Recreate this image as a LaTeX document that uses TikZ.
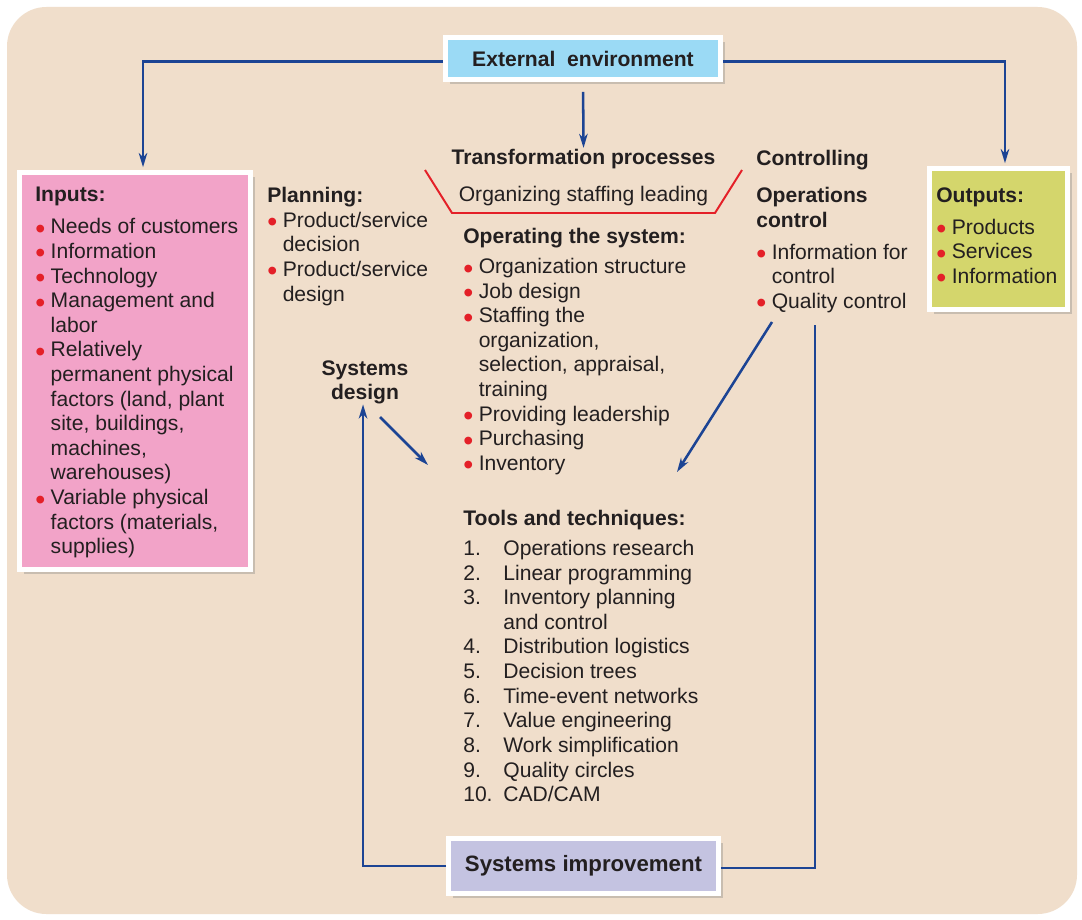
\documentclass[tikz,border=0pt]{standalone}
\usepackage{fontspec}
\setmainfont{Liberation Sans}
\usetikzlibrary{
    arrows.meta,
    shadows
}
\definecolor{bgC}  {RGB}{240,222,203}
\definecolor{envC} {RGB}{155,218,245}
\definecolor{inC}  {RGB}{242,163,200}
\definecolor{outC} {RGB}{212,214,108}
\definecolor{impC} {RGB}{196,195,225}
\definecolor{flowC}{RGB}{28,68,148}
\definecolor{redC} {RGB}{228,32,40}
\definecolor{inkC} {RGB}{35,31,32}
\tikzset{
  panel/.style = {draw=white, line width=3.5pt, inner sep=0pt, text=inkC,
                  font=\bfseries\fontsize{15}{17.5}\selectfont,
                  drop shadow={shadow xshift=3pt, shadow yshift=-3pt,
                               opacity=0.35}},
  txt/.style   = {anchor=north west, align=left, inner sep=0pt, text=inkC,
                  font=\fontsize{15}{17.5}\selectfont},
  flow/.style  = {-{Stealth[length=10pt, width=6pt, inset=3pt]},
                  line width=1.8pt, draw=flowC},
  link/.style  = {line width=1.8pt, draw=flowC}
}
\newcommand{\bul}{\makebox[11pt][l]{%
  \textcolor{redC}{\raisebox{-3.2pt}{\scalebox{1.35}{\textbullet}}}}}
\newcommand{\ind}{\hspace*{11pt}}
\newcommand{\num}[1]{\makebox[28.5pt][l]{#1}}

\begin{document}
\begin{tikzpicture}[x=0.025cm, y=-0.025cm]

  %% ── Canvas ────────────────────────────────────────────────────
  \useasboundingbox (0,0) rectangle (1082,919);
  \fill[white] (0,0) rectangle (1082,919);
  \fill[bgC, rounded corners=28pt] (7,7) rectangle (1077,914);

  %% ── Boxes ─────────────────────────────────────────────────────
  \node[panel, fill=envC, minimum width=195.6pt, minimum height=29.9pt]
    (ext) at (583,58.5) {External\ \ environment};
  \node[panel, fill=inC,  minimum width=164.3pt, minimum height=282.4pt]
    (inputs) at (135,371) {};
  \node[panel, fill=outC, minimum width=98.2pt,  minimum height=100.3pt]
    (outputs) at (998.5,239) {};
  \node[panel, fill=impC, minimum width=192pt,   minimum height=39.1pt,
        font=\bfseries\fontsize{15.8}{18}\selectfont]
    (simp) at (583.5,866) {Systems improvement};

  %% ── Inputs / outputs ──────────────────────────────────────────
  \node[txt] (intxt) at (35,187) {\textbf{Inputs:}\\[5.3pt]
    \bul Needs of customers\\
    \bul Information\\
    \bul Technology\\
    \bul Management and\\
    \ind labor\\
    \bul Relatively\\
    \ind permanent physical\\
    \ind factors (land, plant\\
    \ind site, buildings,\\
    \ind machines,\\
    \ind warehouses)\\
    \bul Variable physical\\
    \ind factors (materials,\\
    \ind supplies)};
  \node[txt] (outtxt) at (936,187) {\textbf{Outputs:}\\[5.3pt]
    \bul Products\\
    \bul Services\\
    \bul Information};

  %% ── Planning ──────────────────────────────────────────────────
  \node[txt] (plantxt) at (267,187) {\textbf{Planning:}\\
    \bul Product/service\\
    \ind decision\\
    \bul Product/service\\
    \ind design};

  %% ── Transformation processes ──────────────────────────────────
  \node[txt, anchor=base, inner sep=0.3333em] (trans) at (583.5,164)
    {\textbf{Transformation processes}};
  \node[txt, anchor=base] (organize) at (583.5,201)
    {Organizing staffing leading};
  \draw[redC, line width=1.4pt] (425,170) -- (452,213) -- (715,213) -- (742,170);

  \node[txt] (optxt) at (463,228) {\textbf{Operating the system:}\\[3.8pt]
    \bul Organization structure\\
    \bul Job design\\
    \bul Staffing the\\
    \ind organization,\\
    \ind selection, appraisal,\\
    \ind training\\
    \bul Providing leadership\\
    \bul Purchasing\\
    \bul Inventory};

  \node[txt] (tooltxt) at (463,510) {\textbf{Tools and techniques:}\\[3.8pt]
    \num{1.}Operations research\\
    \num{2.}Linear programming\\
    \num{3.}Inventory planning\\
    \num{}and control\\
    \num{4.}Distribution logistics\\
    \num{5.}Decision trees\\
    \num{6.}Time-event networks\\
    \num{7.}Value engineering\\
    \num{8.}Work simplification\\
    \num{9.}Quality circles\\
    \num{10.}CAD/CAM};

  %% ── Controlling ───────────────────────────────────────────────
  \node[txt, anchor=base west] (ctrlhead) at (756,165) {\textbf{Controlling}};
  \node[txt] (ctrltxt) at (756,187) {\textbf{Operations}\\
    \textbf{control}\\[5.3pt]
    \bul Information for\\
    \ind control\\
    \bul Quality control};

  %% ── Systems design ────────────────────────────────────────────
  \node[txt, anchor=north, align=center] (sdesign) at (365,360)
    {\textbf{Systems}\\ \textbf{design}};

  %% ── Free ends ─────────────────────────────────────────────────
  \coordinate (qcstart)  at (772,322);
  \coordinate (opright)  at (677,472);
  \coordinate (sdstart)  at (380,417);
  \coordinate (opleft)   at (428,465);
  \coordinate (ctrlfoot) at (815,325);

  %% ── Connectors ────────────────────────────────────────────────
  \draw[flow, shorten >=2pt] ([yshift=-2pt]ext.west) -| ([xshift=5.7pt]inputs.north);
  \draw[flow, shorten >=2pt] ([yshift=-2pt]ext.east) -| ([xshift=4.6pt]outputs.north);
  \draw[flow, shorten <=7pt, shorten >=-3pt] (ext.south) -- (trans.north);
  \draw[flow] (qcstart) -- (opright);
  \draw[flow] (sdstart) -- (opleft);
  \draw[flow] (simp.west) -| ([xshift=-1.4pt]sdesign.south);
  \draw[link] ([yshift=-1.5pt]simp.east) -| (ctrlfoot);

\end{tikzpicture}
\end{document}
